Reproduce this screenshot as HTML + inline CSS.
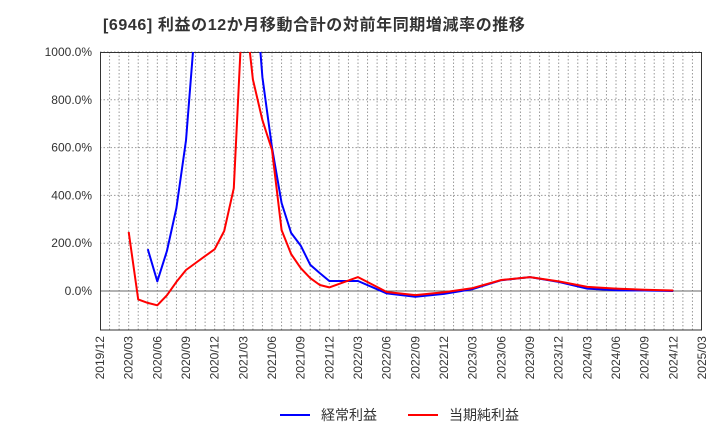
<!DOCTYPE html>
<html><head><meta charset="utf-8"><style>
body{margin:0;background:#fff;font-family:"Liberation Sans","Noto Sans CJK JP",sans-serif}
</style></head><body>
<svg width="720" height="440" xmlns="http://www.w3.org/2000/svg" font-family="Liberation Sans, Noto Sans CJK JP, sans-serif">
<text x="103" y="30" font-size="16" font-weight="bold" fill="#333" letter-spacing="0.6">[6946]  利益の12か月移動合計の対前年同期増減率の推移</text>
<defs><clipPath id="pc"><rect x="100" y="52" width="602" height="278"/></clipPath></defs>
<g id="grid"></g>
<g id="axes"></g>
<g id="series" clip-path="url(#pc)"></g>
<g>
<line x1="280" y1="415" x2="310" y2="415" stroke="#0000ff" stroke-width="2"/>
<text x="321" y="420" font-size="14" fill="#333">経常利益</text>
<line x1="408" y1="415" x2="438" y2="415" stroke="#ff0000" stroke-width="2"/>
<text x="449" y="420" font-size="14" fill="#333">当期純利益</text>
</g>
</svg>
<script>
const xTickLabels=["2019/12","2020/03","2020/06","2020/09","2020/12","2021/03","2021/06","2021/09","2021/12","2022/03","2022/06","2022/09","2022/12","2023/03","2023/06","2023/09","2023/12","2024/03","2024/06","2024/09","2024/12","2025/03"];
const yTicks=[0,200,400,600,800,1000];
const blueMonths=[5,6,7,8,9,10,16,17,18,19,20,21,22,23,24,27,30,33,36,39,42,45,48,51,54,57,60];
const blueValues=[175,40,167,347,630,1140,1400,895,600,368,243,190,110,75,42,42,-10,-24,-12,8,45,58,38,10,3,2,0];
const redMonths=[3,4,5,6,7,8,9,10,11,12,13,14,15,16,17,18,19,20,21,22,23,24,27,30,33,36,39,42,45,48,51,54,57,60];
const redValues=[247,-35,-50,-60,-18,38,88,117,146,175,251,430,1250,885,715,590,255,155,96,54,25,15,58,-4,-17,-5,12,46,58,40,17,10,5,2];
const NS="http://www.w3.org/2000/svg";
const X0=100,X1=702,Y0=291,PXPER=47.8/200;
const xm=m=>X0+m*(X1-X0)/63;
const yv=v=>Y0-v*PXPER;
const grid=document.getElementById('grid'),axes=document.getElementById('axes'),ser=document.getElementById('series');
function mk(tag,attrs,parent){const e=document.createElementNS(NS,tag);for(const k in attrs)e.setAttribute(k,attrs[k]);parent.appendChild(e);return e;}
for(let m=1;m<63;m++){
 const l=mk('line',{x1:xm(m),x2:xm(m),y1:52,y2:330,stroke:'#999','stroke-dasharray':'1.5,2','stroke-width':1},grid);
 
 
}
yTicks.forEach(v=>{
 if(v===0)return;
 const l=mk('line',{x1:100,x2:702,y1:yv(v),y2:yv(v),stroke:'#999','stroke-dasharray':'1.5,2'},grid);
 
 
});
const z=mk('line',{x1:100,x2:702,y1:yv(0),y2:yv(0),stroke:'#666'},grid);


const fr=mk('rect',{x:100.5,y:52.5,width:601,height:277.5,fill:'none',stroke:'#333'},axes);


yTicks.forEach(v=>{
 const t=mk('text',{x:92,y:yv(v)+4,'text-anchor':'end','font-size':12,fill:'#333'},axes);
 t.textContent=v.toFixed(1)+'%';
 
 
});
xTickLabels.forEach((s,i)=>{
 const x=xm(i*3);
 const t=mk('text',{x:0,y:0,'text-anchor':'end','font-size':12,fill:'#333',transform:`translate(${x+4},336) rotate(-90)`},axes);
 t.textContent=s;
 
 
});
function line(ms,vs,color,name){
 const p=ms.map((m,i)=>xm(m).toFixed(1)+','+yv(vs[i]).toFixed(1)).join(' ');
 const pl=mk('polyline',{points:p,fill:'none',stroke:color,'stroke-width':2,'stroke-linejoin':'round'},ser);
 
 
}
line(blueMonths,blueValues,'#0000ff','ordinary-profit-line');
line(redMonths,redValues,'#ff0000','net-profit-line');
</script>
</body></html>
